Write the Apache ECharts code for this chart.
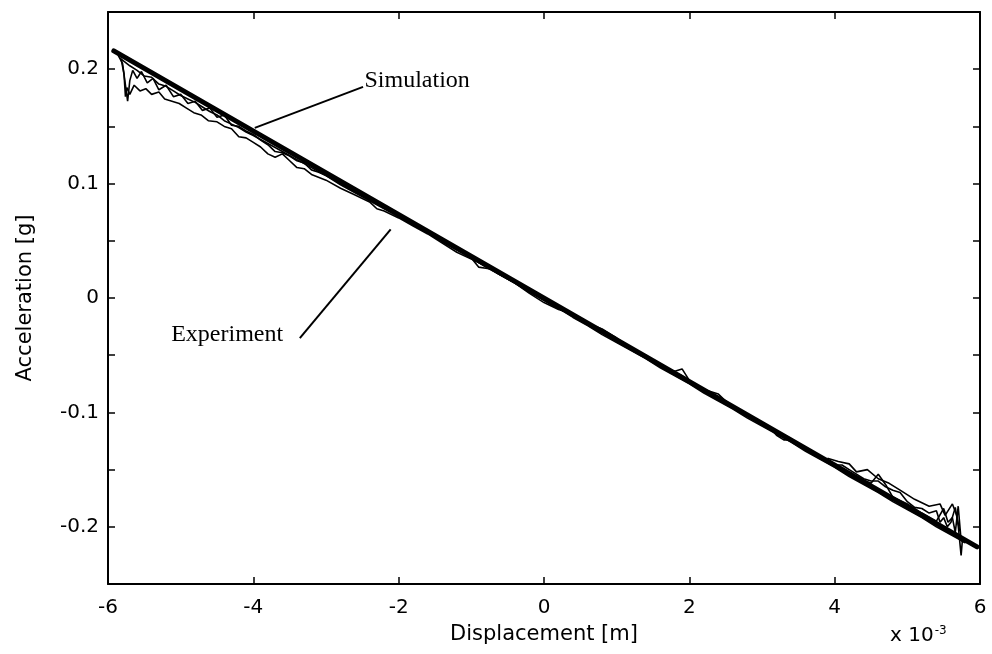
<!DOCTYPE html>
<html>
<head>
<meta charset="utf-8">
<script src="https://cdn.jsdelivr.net/npm/echarts@6/dist/echarts.min.js"></script>
<style>
  html, body { margin: 0; padding: 0; background: #fff; }
  #chart { width: 992px; height: 654px; }
</style>
</head>
<body>
<div id="chart"></div>
<script>
// Displacement in units of 1e-3 m, acceleration in g.
const xTickValues = [-6, -4, -2, 0, 2, 4, 6];
const yTickValues = [-0.2, -0.1, 0, 0.1, 0.2];

// Model prediction: straight line across the stroke.
const simulation = [[-5.92, 0.216], [5.96, -0.2175]];

// Measured runs (several passes of the stroke).
const experimentRun1 = [
  [-5.86,0.212],[-5.80,0.205],[-5.76,0.186],[-5.73,0.172],[-5.70,0.190],[-5.66,0.199],[-5.60,0.192],
  [-5.54,0.198],[-5.46,0.188],[-5.38,0.192],[-5.30,0.182],[-5.20,0.186],[-5.10,0.176],[-5.00,0.178],
  [-4.90,0.170],[-4.80,0.172],[-4.70,0.164],[-4.60,0.166],[-4.50,0.158],[-4.40,0.160],[-4.30,0.151],
  [-4.20,0.150],[-4.10,0.146],[-4.00,0.143],[-3.90,0.138],[-3.80,0.134],[-3.70,0.128],[-3.60,0.127],
  [-3.50,0.124],[-3.40,0.120],[-3.30,0.118],[-3.20,0.112],[-3.10,0.110],[-3.00,0.107],[-2.80,0.100],
  [-2.60,0.093],[-2.40,0.086],[-2.20,0.079],[-2.00,0.072],[-1.80,0.065],[-1.60,0.058],[-1.40,0.050],
  [-1.20,0.043],[-1.00,0.035],[-0.90,0.027],[-0.80,0.026],[-0.70,0.025],[-0.50,0.017],[-0.30,0.010],
  [-0.10,0.002],[0.10,-0.006],[0.30,-0.012],[0.50,-0.019],[0.70,-0.025],[0.90,-0.033],[1.10,-0.040],
  [1.30,-0.048],[1.50,-0.055],[1.70,-0.062],[1.90,-0.068],[2.10,-0.077],[2.30,-0.085],[2.50,-0.091],
  [2.70,-0.099],[2.90,-0.106],[3.10,-0.113],[3.20,-0.120],[3.30,-0.124],[3.40,-0.124],[3.50,-0.128],
  [3.70,-0.135],[3.90,-0.142],[4.10,-0.149],[4.30,-0.157],[4.50,-0.162],[4.60,-0.154],[4.70,-0.163],
  [4.80,-0.174],[5.00,-0.180],[5.20,-0.188],[5.40,-0.195],[5.50,-0.184],[5.56,-0.196],[5.62,-0.192],
  [5.66,-0.205],[5.70,-0.182],[5.74,-0.212],[5.80,-0.214]
];
const experimentRun2 = [
  [-5.82,0.209],[-5.78,0.196],[-5.76,0.176],[-5.74,0.184],[-5.70,0.178],[-5.64,0.186],[-5.56,0.181],
  [-5.48,0.183],[-5.40,0.178],[-5.30,0.180],[-5.22,0.174],[-5.12,0.172],[-5.02,0.170],[-4.92,0.166],
  [-4.82,0.162],[-4.72,0.160],[-4.62,0.155],[-4.50,0.154],[-4.40,0.150],[-4.30,0.148],[-4.20,0.141],
  [-4.10,0.140],[-4.00,0.136],[-3.90,0.132],[-3.80,0.126],[-3.70,0.123],[-3.60,0.126],[-3.50,0.120],
  [-3.40,0.114],[-3.30,0.113],[-3.20,0.108],[-3.00,0.103],[-2.80,0.096],[-2.60,0.090],[-2.40,0.084],
  [-2.30,0.078],[-2.20,0.076],[-2.00,0.070],[-1.80,0.063],[-1.60,0.056],[-1.40,0.048],[-1.20,0.040],
  [-1.00,0.034],[-0.80,0.028],[-0.60,0.020],[-0.40,0.013],[-0.20,0.004],[0.00,-0.004],[0.20,-0.010],
  [0.40,-0.014],[0.60,-0.022],[0.80,-0.027],[1.00,-0.035],[1.20,-0.044],[1.40,-0.050],[1.60,-0.060],
  [1.80,-0.064],[1.90,-0.062],[2.00,-0.072],[2.20,-0.080],[2.40,-0.084],[2.50,-0.090],[2.60,-0.095],
  [2.80,-0.102],[3.00,-0.110],[3.20,-0.116],[3.40,-0.123],[3.60,-0.131],[3.80,-0.139],[4.00,-0.146],
  [4.10,-0.146],[4.20,-0.150],[4.30,-0.154],[4.40,-0.158],[4.50,-0.160],[4.60,-0.160],[4.70,-0.165],
  [4.80,-0.168],[4.90,-0.170],[5.00,-0.178],[5.10,-0.183],[5.20,-0.184],[5.30,-0.188],[5.40,-0.186],
  [5.45,-0.196],[5.50,-0.192],[5.55,-0.200],[5.60,-0.196],[5.66,-0.183],[5.70,-0.199],[5.74,-0.225],
  [5.76,-0.210],[5.82,-0.214]
];
const experimentRun3 = [
  [-5.84,0.210],[-5.70,0.203],[-5.60,0.199],[-5.50,0.194],[-5.40,0.193],[-5.30,0.187],[-5.20,0.185],
  [-5.10,0.181],[-5.00,0.177],[-4.90,0.174],[-4.80,0.171],[-4.70,0.167],[-4.60,0.163],[-4.50,0.160],
  [-4.40,0.155],[-4.30,0.152],[-4.20,0.149],[-4.10,0.145],[-4.00,0.142],[-3.80,0.135],[-3.60,0.128],
  [-3.40,0.121],[-3.20,0.114],[-3.00,0.107],[-2.80,0.099],[-2.60,0.092],[-2.40,0.085],[-2.20,0.078],
  [-2.00,0.071],[-1.80,0.064],[-1.60,0.057],[-1.40,0.049],[-1.20,0.042],[-1.00,0.035],[-0.80,0.027],
  [-0.60,0.020],[-0.40,0.013],[-0.20,0.005],[0.00,-0.002],[0.20,-0.009],[0.40,-0.017],[0.60,-0.024],
  [0.80,-0.032],[1.00,-0.039],[1.20,-0.046],[1.40,-0.053],[1.60,-0.061],[1.80,-0.068],[2.00,-0.075],
  [2.20,-0.083],[2.40,-0.090],[2.60,-0.097],[2.80,-0.105],[3.00,-0.112],[3.20,-0.119],[3.40,-0.126],
  [3.60,-0.134],[3.80,-0.141],[4.00,-0.148],[4.20,-0.156],[4.40,-0.163],[4.60,-0.170],[4.80,-0.178],
  [5.00,-0.185],[5.20,-0.192],[5.40,-0.200],[5.60,-0.207],[5.80,-0.214]
];
const experimentRun4 = [
  [3.90,-0.140],[4.05,-0.143],[4.20,-0.145],[4.30,-0.152],[4.45,-0.150],[4.60,-0.158],[4.75,-0.162],
  [4.90,-0.168],[5.10,-0.176],[5.30,-0.182],[5.45,-0.180],[5.52,-0.190],[5.62,-0.180],[5.68,-0.190],
  [5.72,-0.204]
];

// Callout anchors in data units: text anchor, leader start, leader end.
const simulationCallout = { label: 'Simulation', text: [-2.47, 0.190], from: [-2.49, 0.1845], to: [-3.98, 0.1487] };
const experimentCallout = { label: 'Experiment', text: [-3.59, -0.032], from: [-3.36, -0.035], to: [-2.11, 0.060] };

const sans = "'DejaVu Sans', 'Liberation Sans', Arial, sans-serif";
const serif = "'Liberation Serif', 'Times New Roman', serif";

const chart = echarts.init(document.getElementById('chart'), null, { renderer: 'canvas' });

function fmtY(v) {
  const t = Math.round(v * 100);
  if (t % 10 !== 0) return '';
  const r = t / 100;
  return r === 0 ? '0' : String(r);
}

const boxLine = { show: true, onZero: false, lineStyle: { color: '#000', width: 2 } };
const tickStyle = { show: true, inside: true, length: 7, lineStyle: { color: '#000', width: 1.5 } };

const traceStyle = { color: '#000', width: 1.6 };
function trace(data) {
  return { type: 'line', data: data, showSymbol: false, symbol: 'none', silent: true,
           lineStyle: traceStyle, z: 2, animation: false };
}

chart.setOption({
  animation: false,
  backgroundColor: '#fff',
  grid: { left: 108, right: 12, top: 12, bottom: 70, containLabel: false, outerBoundsMode: 'none' },
  xAxis: [
    {
      type: 'value', min: -6, max: 6, interval: 2, position: 'bottom',
      axisLine: boxLine, axisTick: tickStyle, splitLine: { show: false },
      axisLabel: { color: '#000', fontFamily: sans, fontSize: 20, margin: 14,
                   formatter: v => xTickValues.includes(v) ? String(v) : '' },
      name: 'Displacement [m]', nameLocation: 'middle', nameGap: 40,
      nameTextStyle: { color: '#000', fontFamily: sans, fontSize: 21 }
    },
    {
      type: 'value', min: -6, max: 6, interval: 2, position: 'top',
      axisLine: boxLine, axisTick: tickStyle, axisLabel: { show: false }, splitLine: { show: false }
    }
  ],
  yAxis: [
    {
      type: 'value', min: -0.25, max: 0.25, interval: 0.05, position: 'left',
      axisLine: boxLine, axisTick: tickStyle, splitLine: { show: false },
      axisLabel: { color: '#000', fontFamily: sans, fontSize: 20, margin: 9, formatter: fmtY },
      name: 'Acceleration [g]', nameLocation: 'middle', nameGap: 72,
      nameTextStyle: { color: '#000', fontFamily: sans, fontSize: 21 }
    },
    {
      type: 'value', min: -0.25, max: 0.25, interval: 0.05, position: 'right',
      axisLine: boxLine, axisTick: tickStyle, axisLabel: { show: false }, splitLine: { show: false }
    }
  ],
  series: [
    trace(experimentRun1),
    trace(experimentRun2),
    trace(experimentRun3),
    trace(experimentRun4),
    { type: 'line', data: simulation, showSymbol: false, symbol: 'none', silent: true,
      lineStyle: { color: '#000', width: 5, cap: 'round' }, z: 3 }
  ]
});

// Callout text and leader lines, placed from data coordinates.
function px(p) { return chart.convertToPixel({ xAxisIndex: 0, yAxisIndex: 0 }, p); }
const s0 = px(simulationCallout.text), s1 = px(simulationCallout.from), s2 = px(simulationCallout.to);
const e0 = px(experimentCallout.text), e1 = px(experimentCallout.from), e2 = px(experimentCallout.to);
const leader = { stroke: '#000', lineWidth: 2 };

chart.setOption({
  graphic: [
    { type: 'text', x: s0[0], y: s0[1], style: { text: simulationCallout.label, font: '24px ' + serif,
      fill: '#000', textAlign: 'left', textVerticalAlign: 'middle' } },
    { type: 'line', shape: { x1: s1[0], y1: s1[1], x2: s2[0], y2: s2[1] }, style: leader },
    { type: 'text', x: e0[0], y: e0[1], style: { text: experimentCallout.label, font: '24px ' + serif,
      fill: '#000', textAlign: 'right', textVerticalAlign: 'middle' } },
    { type: 'line', shape: { x1: e1[0], y1: e1[1], x2: e2[0], y2: e2[1] }, style: leader },
    { type: 'text', x: 890, y: 636, style: {
        text: '{b|x 10}{s|-3}', fill: '#000', textVerticalAlign: 'middle',
        rich: { b: { fontFamily: sans, fontSize: 20, fill: '#000' },
                s: { fontFamily: sans, fontSize: 12, fill: '#000', verticalAlign: 'top', padding: [0, 0, 10, 1] } } } }
  ]
});
</script>
</body>
</html>
